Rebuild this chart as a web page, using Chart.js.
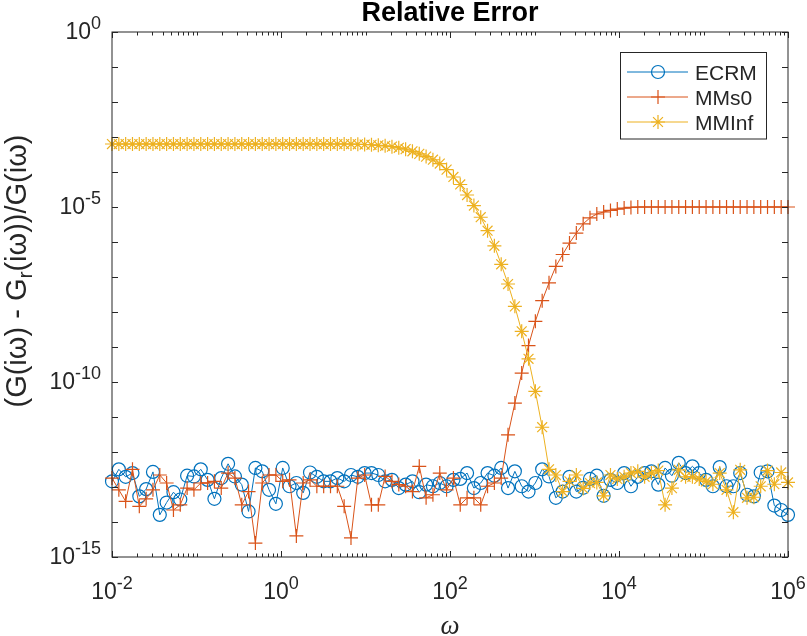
<!DOCTYPE html>
<html>
<head>
<meta charset="utf-8">
<title>Relative Error</title>
<script src="https://cdn.jsdelivr.net/npm/chart.js@4/dist/chart.umd.min.js"></script>
<style>
  body { margin: 0; background: #fff; }
  #wrap { width: 807px; height: 636px; }
</style>
</head>
<body>
<div id="wrap"><canvas id="errChart" width="807" height="636"></canvas></div>
<script>
// frequency grid, logspace(-2, 6, 100)
const omega = Array.from({ length: 100 }, (_, i) => Math.pow(10, -2 + 8 * i / 99));

const seriesNames = ["ECRM", "MMs0", "MMInf"];

const ecrm = [
    1.45e-13, 3.2e-13, 1.95e-13, 2.5e-13, 5.4e-14, 8.7e-14, 2.7e-13, 1.6e-14, 3.6e-14, 7.1e-14,
    4.4e-14, 2.1e-13, 2.0e-13, 3.2e-13, 1.6e-13, 4.6e-14, 1.8e-13, 4.6e-13, 2.0e-13, 1.17e-13,
    2.0e-14, 3.5e-13, 2.8e-13, 8.3e-14, 3.3e-14, 3.5e-13, 1.05e-13, 1.3e-13, 6.8e-14, 2.6e-13,
    1.95e-13, 1.45e-13, 1.45e-13, 1.8e-13, 1.45e-13, 2.2e-13, 1.95e-13, 2.5e-13, 2.5e-13, 2.2e-13,
    1.45e-13, 1.6e-13, 9.3e-14, 1.17e-13, 1.45e-13, 7.1e-14, 1.17e-13, 1.05e-13, 1.3e-13, 1.05e-13,
    1.6e-13, 1.7e-13, 2.5e-13, 9.3e-14, 1.3e-13, 2.5e-13, 2.1e-13, 3.5e-13, 9.3e-14, 2.8e-13,
    1.05e-13, 7.4e-14, 1.3e-13, 3.2e-13, 2.0e-13, 4.9e-14, 7.4e-14, 1.95e-13, 7.4e-14, 9.5e-14,
    1.7e-13, 2.1e-13, 5.6e-14, 1.6e-13, 1.3e-13, 2.5e-13, 1.05e-13, 1.95e-13, 2.5e-13, 2.8e-13,
    1.17e-13, 3.5e-13, 2.1e-13, 4.9e-13, 2.5e-13, 3.9e-13, 2.5e-13, 1.6e-13, 1.05e-13, 3.7e-13,
    1.05e-13, 1.05e-13, 2.5e-13, 6.0e-14, 5.4e-14, 2.6e-13, 2.8e-13, 2.95e-14, 2.2e-14, 1.6e-14
];

const mms0 = [
    1.8e-13, 8.3e-14, 3.9e-14, 3.2e-13, 2.8e-14, 4.6e-14, 8.3e-14, 2.2e-13, 1.3e-13, 2.2e-14,
    3.1e-14, 9.3e-14, 8.3e-14, 1.3e-13, 1.3e-13, 1.45e-13, 9.3e-14, 2.5e-13, 1.8e-13, 3.1e-14,
    7.4e-14, 2.5e-15, 1.3e-13, 2.2e-13, 2.2e-13, 1.45e-13, 1.6e-13, 4.0e-15, 1.3e-13, 1.6e-13,
    1.05e-13, 1.05e-13, 1.05e-13, 1.05e-13, 2.8e-14, 3.5e-15, 1.8e-13, 2.2e-13, 3.1e-14, 3.1e-14,
    2.0e-13, 1.45e-13, 1.17e-13, 1.05e-13, 7.4e-14, 3.9e-13, 4.9e-14, 6.0e-14, 2.5e-13, 8.3e-14,
    1.8e-13, 3.1e-14, 4.9e-14, 4.9e-14, 3.1e-14, 1.05e-13, 1.3e-13, 1.8e-13, 3.1e-12, 2.5e-11,
    1.8e-10, 1.1e-9, 5.4e-9, 2.1e-8, 6.8e-8, 2.0e-7, 4.4e-7, 9.3e-7, 1.8e-6, 3.3e-6,
    4.9e-6, 6.3e-6, 7.2e-6, 8.0e-6, 8.7e-6, 9.3e-6, 9.7e-6, 1.0e-5, 1.0e-5, 1.0e-5,
    1.0e-5, 1.0e-5, 1.0e-5, 1.0e-5, 1.0e-5, 1.0e-5, 1.0e-5, 1.0e-5, 1.0e-5, 1.0e-5,
    1.0e-5, 1.0e-5, 1.0e-5, 1.0e-5, 1.0e-5, 1.0e-5, 1.0e-5, 1.0e-5, 1.0e-5, 1.0e-5
];

const mminf = [
    6.3e-4, 6.3e-4, 6.3e-4, 6.3e-4, 6.3e-4, 6.3e-4, 6.3e-4, 6.3e-4, 6.3e-4, 6.3e-4,
    6.3e-4, 6.3e-4, 6.3e-4, 6.3e-4, 6.3e-4, 6.3e-4, 6.3e-4, 6.3e-4, 6.3e-4, 6.3e-4,
    6.3e-4, 6.3e-4, 6.3e-4, 6.3e-4, 6.3e-4, 6.3e-4, 6.3e-4, 6.3e-4, 6.3e-4, 6.3e-4,
    6.3e-4, 6.3e-4, 6.3e-4, 6.3e-4, 6.3e-4, 6.3e-4, 6.2e-4, 6.1e-4, 6.0e-4, 5.8e-4,
    5.6e-4, 5.3e-4, 4.9e-4, 4.5e-4, 3.9e-4, 3.3e-4, 2.75e-4, 2.24e-4, 1.74e-4, 1.17e-4,
    7.2e-5, 4.4e-5, 2.2e-5, 1.1e-5, 5.1e-6, 2.1e-6, 7.8e-7, 2.3e-7, 6.3e-8, 1.45e-8,
    2.8e-9, 4.6e-10, 5.4e-11, 5.1e-12, 3.2e-13, 2.2e-13, 7.4e-14, 1.45e-13, 2.2e-13, 9.1e-14,
    1.3e-13, 1.35e-13, 5.6e-14, 2.2e-13, 1.7e-13, 1.95e-13, 2.5e-13, 2.8e-13, 1.95e-13, 2.5e-13,
    2.95e-13, 3.1e-14, 9.3e-14, 3.1e-13, 1.95e-13, 1.95e-13, 1.7e-13, 1.45e-13, 1.2e-13, 2.5e-13,
    8.3e-14, 1.9e-14, 3.1e-13, 4.9e-14, 5.1e-14, 1.05e-13, 2.95e-13, 1.2e-13, 2.6e-13, 1.35e-13
];

// tick labels are 10^exp
const xTickExps = [-2, 0, 2, 4, 6];
const yTickExps = [-15, -10, -5, 0];

const colors = ["#0072BD", "#D95319", "#EDB120"];
const markers = ["circle", "cross", "star"];

const axisColor = "#262626";
const tickFont = "23px 'Liberation Sans', Arial, sans-serif";
const supFont = "18px 'Liberation Sans', Arial, sans-serif";

function toPoints(values) {
    return omega.map((w, i) => ({ x: w, y: values[i] }));
}

// draws "10" with a raised exponent
function drawPower(ctx, exp, x, y, align) {
    const base = "10", sup = String(exp);
    ctx.font = tickFont;
    const wb = ctx.measureText(base).width;
    ctx.font = supFont;
    const ws = ctx.measureText(sup).width;
    const x0 = align === "center" ? x - (wb + ws) / 2 : x - (wb + ws);
    ctx.textAlign = "left";
    ctx.textBaseline = "alphabetic";
    ctx.font = tickFont;
    ctx.fillText(base, x0, y);
    ctx.font = supFont;
    ctx.fillText(sup, x0 + wb, y - 10);
}

// MATLAB style box, ticks, labels and legend
const matlabAxes = {
    id: "matlabAxes",
    afterDraw(chart) {
        const { ctx, chartArea: a, scales: { x, y } } = chart;
        ctx.save();

        // box
        ctx.strokeStyle = axisColor;
        ctx.lineWidth = 1;
        ctx.strokeRect(a.left, a.top, a.right - a.left, a.bottom - a.top);

        // x ticks (top and bottom)
        ctx.beginPath();
        for (let e = -2; e <= 6; e++) {
            for (let m = 1; m < 10; m++) {
                if (e === 6 && m > 1) break;
                const px = Math.round(x.getPixelForValue(m * Math.pow(10, e))) + 0.5;
                const len = (m === 1 && xTickExps.includes(e)) ? 6 : 3.5;
                ctx.moveTo(px, a.bottom);
                ctx.lineTo(px, a.bottom - len);
                ctx.moveTo(px, a.top);
                ctx.lineTo(px, a.top + len);
            }
        }
        // y ticks, one per decade (left and right)
        for (let e = -15; e <= 0; e++) {
            const py = Math.round(y.getPixelForValue(Math.pow(10, e))) + 0.5;
            ctx.moveTo(a.left, py);
            ctx.lineTo(a.left + 6, py);
            ctx.moveTo(a.right, py);
            ctx.lineTo(a.right - 6, py);
        }
        ctx.stroke();

        // tick labels
        ctx.fillStyle = axisColor;
        xTickExps.forEach(e => {
            drawPower(ctx, e, x.getPixelForValue(Math.pow(10, e)), a.bottom + 42, "center");
        });
        yTickExps.forEach(e => {
            drawPower(ctx, e, a.left - 11, y.getPixelForValue(Math.pow(10, e)) + 7, "right");
        });

        // title
        ctx.fillStyle = "#000";
        ctx.font = "bold 27px 'Liberation Sans', Arial, sans-serif";
        ctx.textAlign = "center";
        ctx.fillText("Relative Error", (a.left + a.right) / 2, 20.5);

        // x label
        ctx.fillStyle = axisColor;
        ctx.font = "italic 27px 'Liberation Serif', 'Times New Roman', serif";
        ctx.fillText("\u03c9", (a.left + a.right) / 2, 634);

        // y label with subscript r
        const main = "29px 'Liberation Sans', Arial, sans-serif";
        const sub = "21px 'Liberation Sans', Arial, sans-serif";
        const parts = [["(G(i\u03c9) - G", main, 0], ["r", sub, 6], ["(i\u03c9))/G(i\u03c9)", main, 0]];
        let total = 0;
        parts.forEach(p => { ctx.font = p[1]; total += ctx.measureText(p[0]).width; });
        ctx.translate(26, 271);
        ctx.rotate(-Math.PI / 2);
        ctx.textAlign = "left";
        let cx = -total / 2;
        parts.forEach(p => {
            ctx.font = p[1];
            ctx.fillText(p[0], cx, p[2]);
            cx += ctx.measureText(p[0]).width;
        });
        ctx.setTransform(1, 0, 0, 1, 0, 0);

        // legend
        ctx.fillStyle = "#fff";
        ctx.fillRect(620.5, 52.5, 146, 86.5);
        ctx.strokeStyle = axisColor;
        ctx.strokeRect(620.5, 52.5, 146, 86.5);
        seriesNames.forEach((name, i) => {
            const ry = 72 + i * 25;
            ctx.strokeStyle = colors[i];
            ctx.lineWidth = 1;
            ctx.beginPath();
            ctx.moveTo(627, ry);
            ctx.lineTo(688, ry);
            ctx.stroke();
            ctx.fillStyle = "rgba(0,0,0,0)";
            ctx.lineWidth = 1.2;
            Chart.helpers.drawPoint(ctx, { pointStyle: markers[i], radius: i === 0 ? 6.5 : 7, rotation: 0, borderWidth: 1.2 }, 658, ry);
            ctx.fillStyle = axisColor;
            ctx.font = "21px 'Liberation Sans', Arial, sans-serif";
            ctx.textAlign = "left";
            ctx.fillText(name, 695, ry + 7.5);
        });

        ctx.restore();
    }
};

const seriesData = [ecrm, mms0, mminf];

new Chart(document.getElementById("errChart").getContext("2d"), {
    type: "line",
    data: {
        datasets: seriesNames.map((name, i) => ({
            label: name,
            data: toPoints(seriesData[i]),
            borderColor: colors[i],
            borderWidth: 1,
            pointStyle: markers[i],
            pointRadius: i === 0 ? 6.5 : 7,
            pointBorderWidth: 1.2,
            pointBorderColor: colors[i],
            pointBackgroundColor: "rgba(0,0,0,0)",
            tension: 0,
            clip: false,
            order: 2 - i
        }))
    },
    options: {
        responsive: false,
        animation: false,
        devicePixelRatio: 1,
        layout: { padding: { left: 112, right: 19, top: 32, bottom: 79 } },
        plugins: {
            legend: { display: false },
            title: { display: false },
            tooltip: { enabled: false }
        },
        scales: {
            x: { type: "logarithmic", min: 1e-2, max: 1e6, display: false },
            y: { type: "logarithmic", min: 1e-15, max: 1, display: false }
        }
    },
    plugins: [matlabAxes]
});
</script>
</body>
</html>
